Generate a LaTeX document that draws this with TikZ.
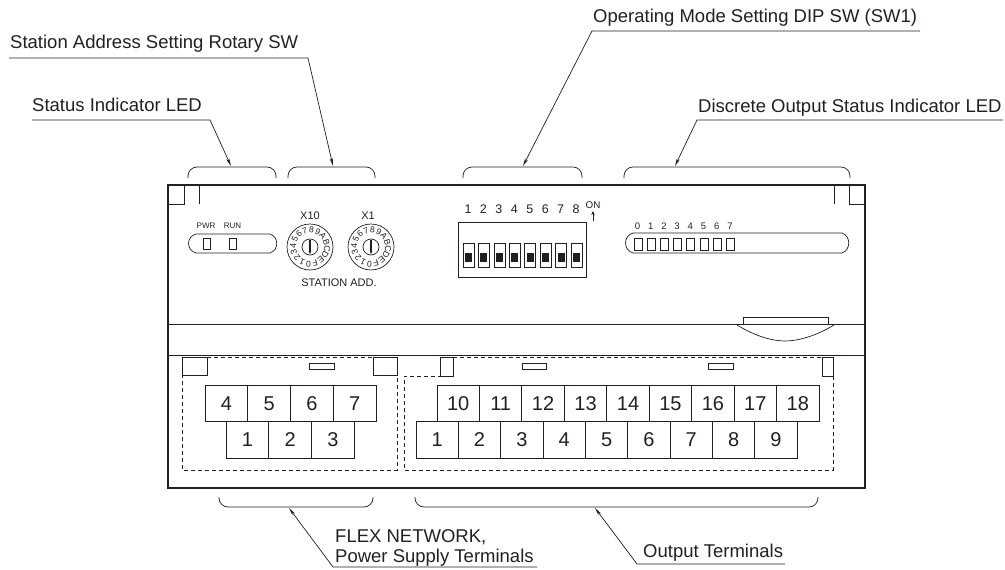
\documentclass[tikz,border=0pt]{standalone}
\usepackage{fontspec}
\setmainfont{Liberation Sans}
\usetikzlibrary{arrows.meta}
\definecolor{ink}{HTML}{231F20}
\tikzset{
    line/.style={draw=ink,line width=0.8pt},
    body/.style={draw=ink,line width=1.3pt},
    thin/.style={draw=ink,line width=0.7pt},
    fence/.style={draw=ink,line width=0.8pt,dash pattern=on 4pt off 3pt},
    bracket/.style={draw=ink,line width=0.7pt,rounded corners=9pt},
    leader/.style={draw=ink,line width=0.7pt,-{Stealth[length=8pt,width=3.2pt]}},
    callout/.style={text=ink,font=\fontsize{18.5}{20}\selectfont,inner sep=0pt,anchor=base west},
    term/.style={draw=ink,line width=0.9pt,minimum height=36.5pt,inner sep=0pt,text=ink,font=\fontsize{20}{22}\selectfont},
    tiny/.style={text=ink,inner sep=0pt,font=\fontsize{8}{9}\selectfont},
    small/.style={text=ink,inner sep=0pt,font=\fontsize{11}{12}\selectfont},
}
\newcommand{\dial}[2]{%
    \draw[thin] (#1,-247) circle (23);
    \draw[thin] (#1,-247) circle (8);
    \draw[ink,line width=1.1pt,-{Stealth[length=3pt,width=2.5pt]}] (#1,-240) -- (#1,-254);
    \foreach \ch [count=\i from 0] in {0,1,2,3,4,5,6,7,8,9,A,B,C,D,E,F} {
        \pgfmathsetmacro{\ang}{85+(8-\i)*22.5}
        \node[text=ink,inner sep=0pt,rotate=\ang-90,font=\fontsize{8.6}{9}\selectfont] (#2\i)
            at ([shift={(\ang:17)}]#1,-247) {\ch};
    }
}
\begin{document}
\begin{tikzpicture}[x=1pt,y=1pt]
    \useasboundingbox (0,0) rectangle (1005,-570);
    % housing
    \draw[body] (168,-185) rectangle (865,-488);
    \draw[thin] (168,-324) -- (865,-324);
    \draw[thin] (168,-355) -- (865,-355);
    \draw[thin] (168,-204) -- (184,-204) -- (184,-185);
    \draw[thin] (199,-185) -- (199,-204);
    \draw[thin] (834,-185) -- (834,-204);
    \draw[thin] (849,-185) -- (849,-204) -- (865,-204);
    % latch
    \draw[thin] (743,-317) rectangle (828,-324);
    \draw[thin] (737,-325) .. controls (755,-336) and (772,-341) .. (785,-341) .. controls (798,-341) and (816,-336) .. (834,-325);
    % status LED
    \draw[thin] (196,-234) -- (270,-234) .. controls (279,-237) and (279,-250) .. (270,-253) -- (196,-253) .. controls (186,-250) and (186,-237) .. (196,-234);
    \draw[thin] (203,-238) rectangle (210,-249);
    \draw[thin] (229,-238) rectangle (236,-249);
    \node[tiny] (pwr) at (206,-226) {PWR};
    \node[tiny] (run) at (232.5,-226) {RUN};
    % rotary switches
    \dial{310}{ten}
    \dial{371}{one}
    \node[small] (xten) at (310,-216) {X10};
    \node[small] (xone) at (368,-216) {X1};
    \node[small] (stn) at (339,-283) {STATION ADD.};
    % DIP switch
    \draw[line] (458,-222) rectangle (586,-277);
    \foreach \n [count=\i from 0] in {1,...,8} {
        \node[small,font=\fontsize{12.5}{13}\selectfont] (dip\n) at (468+\i*15.45,-209) {\n};
        \draw[thin] (463+\i*15.45,-243) rectangle (474+\i*15.45,-267);
        \fill[ink] (465+\i*15.45,-253) rectangle (472+\i*15.45,-262);
    }
    \node[text=ink,inner sep=0pt,font=\fontsize{9.8}{10}\selectfont] (on) at (593,-205) {ON};
    \coordinate (ona) at (593,-221);
    \coordinate (onb) at (593,-211);
    \draw[ink,line width=0.9pt,-{Stealth[length=4pt,width=3.5pt]}] (ona) -- (onb);
    % output LED
    \draw[thin] (633,-233) -- (842,-233) .. controls (851,-236) and (851,-250) .. (842,-253) -- (633,-253) .. controls (623,-250) and (623,-236) .. (633,-233);
    \foreach \n [count=\i from 0] in {0,...,7} {
        \node[tiny,font=\fontsize{9.5}{10}\selectfont] (led\n) at (637.5+\i*13.2,-226.5) {\n};
        \draw[thin] (634+\i*13.2,-238) rectangle (642+\i*13.2,-250);
    }
    % terminal blocks
    \draw[fence] (207,-357) -- (373,-357);
    \draw[fence] (397,-357) -- (397,-470) -- (182,-470) -- (182,-357) -- (207,-357);
    \draw[fence] (453,-357) -- (822,-357);
    \draw[fence] (833,-376) -- (833,-470) -- (404,-470) -- (404,-376) -- (440,-376);
    \draw[thin] (182,-357) rectangle (207,-375);
    \draw[thin] (373,-357) rectangle (397,-375);
    \draw[thin] (440,-357) rectangle (453,-376);
    \draw[thin] (822,-357) rectangle (833,-376);
    \draw[thin] (309,-363) rectangle (334,-369);
    \draw[thin] (522,-363) rectangle (546,-369);
    \draw[thin] (708,-363) rectangle (733,-369);
    \foreach \n [count=\i from 0] in {4,5,6,7}
        \node[term,minimum width=42.8pt] (pa\n) at (226.4+\i*42.8,-403.5) {\n};
    \foreach \n [count=\i from 0] in {1,2,3}
        \node[term,minimum width=42.8pt] (pb\n) at (247.4+\i*42.8,-440) {\n};
    \foreach \n [count=\i from 0] in {10,...,18}
        \node[term,minimum width=42.4pt] (oa\n) at (458.2+\i*42.45,-403.5) {\n};
    \foreach \n [count=\i from 0] in {1,...,9}
        \node[term,minimum width=42.4pt] (ob\n) at (437.2+\i*42.35,-440) {\n};
    % brackets
    \draw[bracket] (188,-178) -- (188,-167) -- (276,-167) -- (276,-178);
    \draw[bracket] (288,-178) -- (288,-167) -- (375,-167) -- (375,-178);
    \draw[bracket] (463,-178) -- (463,-167) -- (582,-167) -- (582,-178);
    \draw[bracket] (624,-178) -- (624,-167) -- (850,-167) -- (850,-178);
    \draw[bracket] (219,-497) -- (219,-507) -- (373,-507) -- (373,-497);
    \draw[bracket] (415,-497) -- (415,-507) -- (818,-507) -- (818,-497);
    % callouts
    \node[callout] (rotary) at (10,-48) {Station Address Setting Rotary SW};
    \node[callout] (status) at (32,-111) {Status Indicator LED};
    \node[callout] (mode) at (593,-23) {Operating Mode Setting DIP SW (SW1)};
    \node[callout] (output) at (698,-112) {Discrete Output Status Indicator LED};
    \node[callout] (flex) at (335,-542) {FLEX NETWORK,};
    \node[callout] (power) at (335,-562) {Power Supply Terminals};
    \node[callout] (outterm) at (643,-557) {Output Terminals};
    \coordinate (rotarya) at (9,-58);    \coordinate (rotaryb) at (308,-58);  \coordinate (rotaryc) at (333,-166);
    \coordinate (statusa) at (32,-120);  \coordinate (statusb) at (210,-120); \coordinate (statusc) at (231,-166);
    \coordinate (modea) at (920,-31);    \coordinate (modeb) at (592,-31);    \coordinate (modec) at (523,-166);
    \coordinate (outputa) at (1003,-120);\coordinate (outputb) at (697,-120); \coordinate (outputc) at (675,-166);
    \coordinate (powera) at (537,-567);  \coordinate (powerb) at (333,-567);  \coordinate (powerc) at (289,-508);
    \coordinate (outterma) at (785,-564);\coordinate (outtermb) at (637,-564);\coordinate (outtermc) at (595,-508);
    \foreach \c in {rotary,status,mode,output,power,outterm}
        \draw[leader] (\c a) -- (\c b) -- (\c c);
\end{tikzpicture}
\end{document}
